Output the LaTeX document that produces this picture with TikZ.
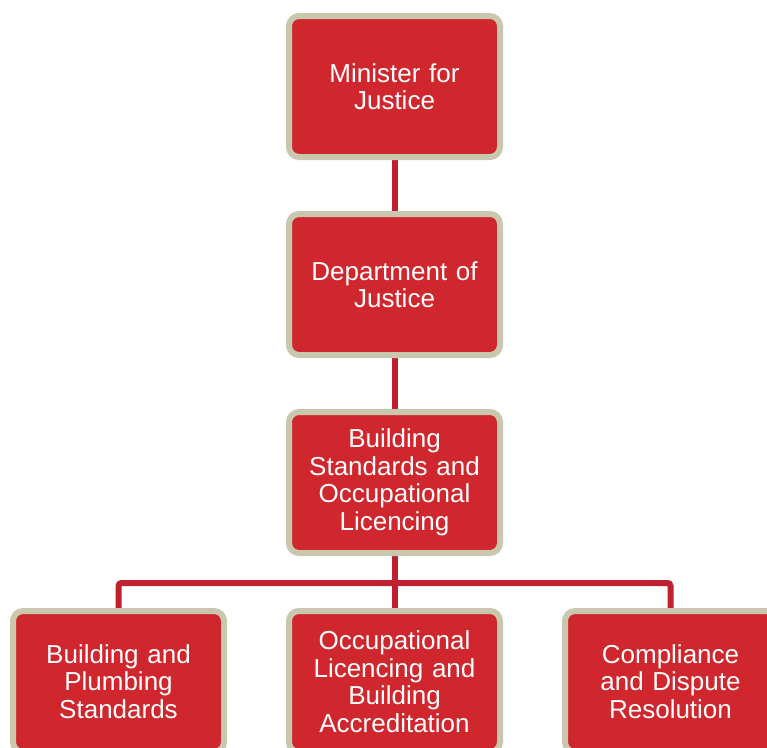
\documentclass[tikz,border=0pt]{standalone}
\usepackage{fontspec}
\setmainfont{Liberation Sans}
\definecolor{boxred}{HTML}{D0262D}
\definecolor{boxrim}{HTML}{C9C8AF}
\definecolor{linkred}{HTML}{BE2030}
\begin{document}
\begin{tikzpicture}[x=1pt,y=1pt,
  orgbox/.style={draw=boxrim, fill=boxred, line width=6pt, rounded corners=10pt,
    minimum width=211pt, minimum height=141pt, inner sep=0pt, text width=205pt,
    align=center, text=white, font=\fontsize{26}{27.5}\selectfont},
  link/.style={draw=linkred, line width=6pt}]
\useasboundingbox (0,0) rectangle (767,-747);
\clip (0,0) rectangle (767,-747);
\coordinate (barmid) at (394.5,-583);
\draw[link] (394.5,-86.5) -- (394.5,-681.5);
\draw[link, rounded corners=3pt] (118.5,-681.5) -- (118.5,-583) -- (670.5,-583) -- (670.5,-681.5);
\node[orgbox] (min) at (394.5,-86.5) {Minister for\\Justice};
\node[orgbox] (dep) at (394.5,-284.5) {Department of\\Justice};
\node[orgbox] (bsol) at (394.5,-482.5) {Building\\Standards and\\Occupational\\Licencing};
\node[orgbox] (bps) at (118.5,-681.5) {Building and\\Plumbing\\Standards};
\node[orgbox] (olba) at (394.5,-681.5) {Occupational\\Licencing and\\Building\\Accreditation};
\node[orgbox] (cdr) at (670.5,-681.5) {Compliance\\and Dispute\\Resolution};
\end{tikzpicture}
\end{document}
